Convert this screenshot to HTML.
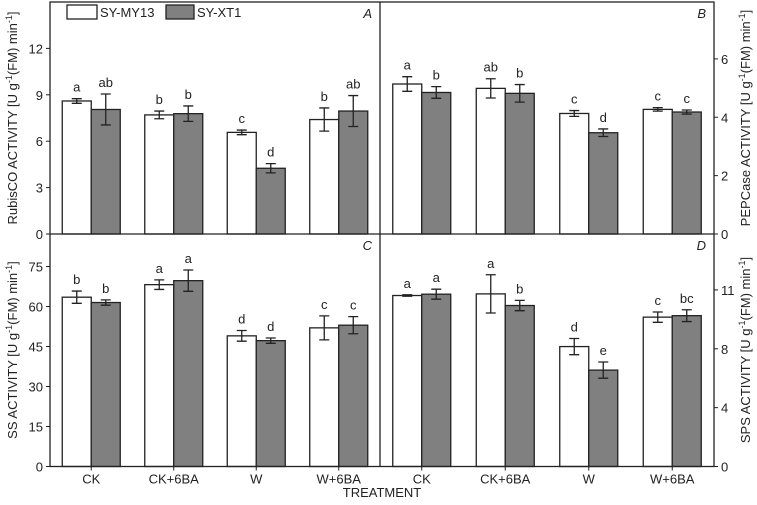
<!DOCTYPE html>
<html><head><meta charset="utf-8"><style>
body{margin:0;background:#fff}
svg text{font-family:"Liberation Sans",Arial,sans-serif;fill:#222}
</style></head><body>
<svg id="c" width="757" height="500"></svg>
<script>
const categories=["CK","CK+6BA","W","W+6BA"];
const aMY=[8.6,7.7,6.57,7.4], aMYe=[0.15,0.25,0.15,0.75], aXT=[8.05,7.78,4.25,7.95], aXTe=[1.0,0.5,0.3,1.0];
const aLabMY=["a","b","c","b"], aLabXT=["ab","b","d","ab"];
const bMY=[5.14,4.99,4.13,4.27], bMYe=[0.25,0.33,0.1,0.06], bXT=[4.85,4.82,3.47,4.18], bXTe=[0.2,0.3,0.13,0.07];
const bLabMY=["a","ab","c","c"], bLabXT=["b","b","d","c"];
const cMY=[63.5,68.2,49,52], cMYe=[2.3,1.8,2,4.5], cXT=[61.5,69.7,47.2,53], cXTe=[1,4,1,3.2];
const cLabMY=["b","a","d","c"], cLabXT=["b","a","d","c"];
const dMY=[11.62,11.73,8.15,10.15], dMYe=[0.05,1.3,0.55,0.35], dXT=[11.71,10.94,6.55,10.25], dXTe=[0.34,0.35,0.55,0.4];
const dLabMY=["a","a","d","c"], dLabXT=["a","b","e","bc"];
const aTicks=[0,3,6,9,12], bTicks=[0,2,4,6], cTicks=[0,15,30,45,60,75], dTicks=[0,4,8,12], dTickLabels=["0","4","8","11"];

const svg=document.getElementById('c');
const NS='http://www.w3.org/2000/svg';
function mk(tag,attrs,name,parent){const e=document.createElementNS(NS,tag);for(const k in attrs)e.setAttribute(k,attrs[k]);


(parent||svg).appendChild(e);return e;}
function txt(s,attrs,name){const t=mk('text',attrs,name);t.textContent=s;return t;}

function panel(id,x0,x1,yTop,yBot,yMax,my,mye,xt,xte,labMy,labXt,ticks,tickLabels,side,letter){
  const g=mk('g',{},'panel-'+id);
  const ys=v=>yBot-(v/yMax)*(yBot-yTop);
  const band=(x1-x0)/4;
  const bw=29;
  for(let i=0;i<4;i++){
    const cx=x0+band*(i+0.5);
    [[my,mye,labMy,'#fff','my13'],[xt,xte,labXt,'#808080','xt1']].forEach((s,j)=>{
      const bx=j==0?cx-bw:cx;
      const v=s[0][i],e=s[1][i];
      mk('rect',{x:bx,y:ys(v),width:bw,height:yBot-ys(v),fill:s[3],stroke:'#222','stroke-width':1.3},'bar-'+id+'-'+s[4]+'-'+i,g);
      const mx=bx+bw/2;
      mk('path',{d:`M${mx},${ys(v+e)}V${ys(v-e)}M${mx-5},${ys(v+e)}h10M${mx-5},${ys(v-e)}h10`,stroke:'#222','stroke-width':1.3,fill:'none'},'errorbar-'+id+'-'+s[4]+'-'+i,g);
      txt(s[2][i],{x:mx,y:ys(v+e)-7,'font-size':13,'text-anchor':'middle'},'sig-label-'+id);
    });
  }
  ticks.forEach((t,k)=>{
    const y=ys(t);
    if(side=='left'){mk('line',{x1:x0-4,x2:x0,y1:y,y2:y,stroke:'#222'},'tick-'+id,g);
      txt(tickLabels[k],{x:x0-7,y:y+5,'font-size':13,'text-anchor':'end'},'tick-label-'+id);}
    else{mk('line',{x1:x1,x2:x1+4,y1:y,y2:y,stroke:'#222'},'tick-'+id,g);
      txt(tickLabels[k],{x:x1+7,y:y+5,'font-size':13},'tick-label-'+id);}
  });
  txt(letter,{x:x1-8,y:yTop+16,'font-size':13,'font-style':'italic','text-anchor':'end'},'panel-letter-'+id);
}
const L=50,M=380,R=714,T=2,Mid=234,B=466.5;
panel('a',L,M,T,Mid,15,aMY,aMYe,aXT,aXTe,aLabMY,aLabXT,aTicks,aTicks.map(String),'left','A');
panel('b',M,R,T,Mid,7.95,bMY,bMYe,bXT,bXTe,bLabMY,bLabXT,bTicks,bTicks.map(String),'right','B');
panel('c',L,M,Mid,B,87.2,cMY,cMYe,cXT,cXTe,cLabMY,cLabXT,cTicks,cTicks.map(String),'left','C');
panel('d',M,R,Mid,B,15.8,dMY,dMYe,dXT,dXTe,dLabMY,dLabXT,dTicks,dTickLabels,'right','D');
mk('rect',{x:L,y:T,width:R-L,height:B-T,fill:'none',stroke:'#222','stroke-width':1.3},'plot-frame');
mk('line',{x1:L,x2:R,y1:Mid,y2:Mid,stroke:'#222','stroke-width':1.3},'panel-divider-h');
mk('line',{x1:M,x2:M,y1:T,y2:B,stroke:'#222','stroke-width':1.3},'panel-divider-v');
[[L,M],[M,R]].forEach((p,h)=>{const band=(p[1]-p[0])/4;categories.forEach((c,i)=>{
  const cx=p[0]+band*(i+0.5);
  mk('line',{x1:cx,x2:cx,y1:B,y2:B+4,stroke:'#222'},'x-tick');
  txt(c,{x:cx,y:B+17,'font-size':13,'text-anchor':'middle'},'x-tick-label');});});
txt('TREATMENT',{x:382,y:497,'font-size':13,'text-anchor':'middle'},'x-axis-title');
function ytitle(s,x,y,name){const t=mk('text',{x:0,y:0,'font-size':13,'text-anchor':'middle',transform:`translate(${x},${y}) rotate(-90)`},name);t.innerHTML=s;}
ytitle('RubisCO ACTIVITY [U g<tspan dy="-5" font-size="9">-1</tspan><tspan dy="5">(FM) min</tspan><tspan dy="-5" font-size="9">-1</tspan><tspan dy="5">]</tspan>',17,118,'y-axis-title-a');
ytitle('SS ACTIVITY [U g<tspan dy="-5" font-size="9">-1</tspan><tspan dy="5">(FM) min</tspan><tspan dy="-5" font-size="9">-1</tspan><tspan dy="5">]</tspan>',17,350,'y-axis-title-c');
ytitle('PEPCase ACTIVITY [U g<tspan dy="-5" font-size="9">-1</tspan><tspan dy="5">(FM) min</tspan><tspan dy="-5" font-size="9">-1</tspan><tspan dy="5">]</tspan>',750,118,'y-axis-title-b');
ytitle('SPS ACTIVITY [U g<tspan dy="-5" font-size="9">-1</tspan><tspan dy="5">(FM) min</tspan><tspan dy="-5" font-size="9">-1</tspan><tspan dy="5">]</tspan>',750,350,'y-axis-title-d');
mk('rect',{x:67,y:5,width:30,height:14,fill:'#fff',stroke:'#222','stroke-width':1.3},'legend-swatch-my13');
txt('SY-MY13',{x:100,y:17,'font-size':13},'legend-label-my13');
mk('rect',{x:166,y:5,width:28,height:14,fill:'#808080',stroke:'#222','stroke-width':1.3},'legend-swatch-xt1');
txt('SY-XT1',{x:197,y:17,'font-size':13},'legend-label-xt1');
</script>
</body></html>
